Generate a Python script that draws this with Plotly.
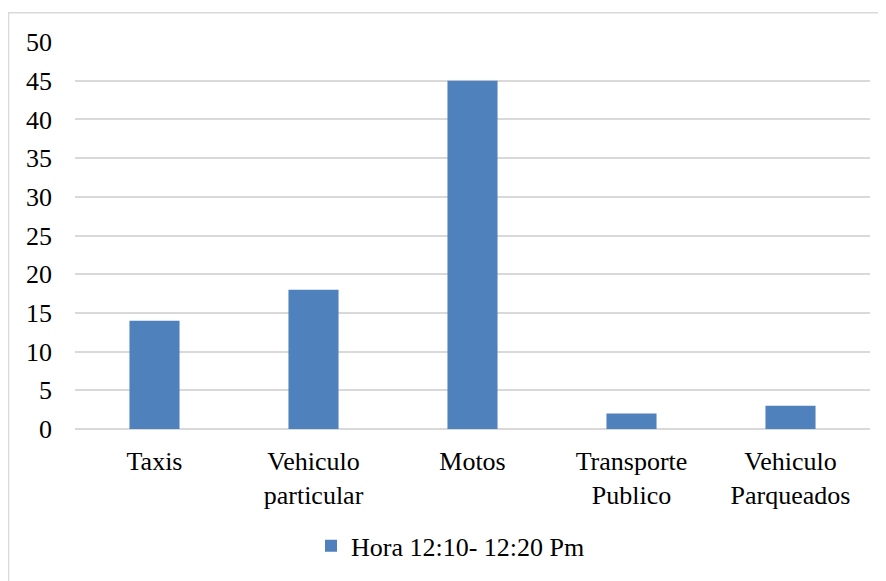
import plotly.graph_objects as go

categories = ["Taxis", "Vehiculo<br>particular", "Motos", "Transporte<br>Publico", "Vehiculo<br>Parqueados"]
values = [14, 18, 45, 2, 3]
series_name = "Hora 12:10- 12:20 Pm"
y_ticks = [0, 5, 10, 15, 20, 25, 30, 35, 40, 45, 50]

# page is offset by the 8px body margin
OFF = 8
W, H = 886 - OFF, 581 - OFF
L, R, T, B = 75 - OFF, 16, 42 - OFF, 581 - 433
pw, ph = W - L - R, H - T - B

def px_x(x):
    return (x - OFF - L) / pw

def px_y(y):
    return (H - B - (y - OFF)) / ph

fig = go.Figure()
fig.add_trace(go.Bar(x=categories, y=values, name=series_name,
                     marker=dict(color="#4f81bd", line=dict(width=0))))

fig.update_layout(
    width=W, height=H,
    margin=dict(l=L, r=R, t=T, b=B),
    paper_bgcolor="white", plot_bgcolor="white",
    font=dict(family="Liberation Serif, Times New Roman, serif", size=26, color="#000000"),
    bargap=0.685,
    showlegend=True,
    legend=dict(orientation="h", x=0.5 - 22 / pw, xanchor="center", y=px_y(551), yanchor="middle",
                font=dict(family="Liberation Serif, Times New Roman, serif", size=26),
                itemwidth=30),
    xaxis=dict(showgrid=False, showline=False, ticks="",
               tickfont=dict(family="Liberation Serif, Times New Roman, serif", size=26),
               ticklabelstandoff=14),
    yaxis=dict(range=[0, 50], tickvals=y_ticks, showgrid=True, gridcolor="#d9d9d9",
               gridwidth=1.5, zeroline=True, zerolinecolor="#d9d9d9", zerolinewidth=1.5,
               showline=False, ticks="", ticklabelstandoff=22,
               tickfont=dict(family="Liberation Serif, Times New Roman, serif", size=26)),
    shapes=[dict(type="rect", xref="paper", yref="paper",
                 x0=px_x(8.5), x1=px_x(900), y0=px_y(600), y1=px_y(12.5),
                 line=dict(color="#d9d9d9", width=1.5), fillcolor="rgba(0,0,0,0)", layer="below")],
)

fig.write_html("out.html")
